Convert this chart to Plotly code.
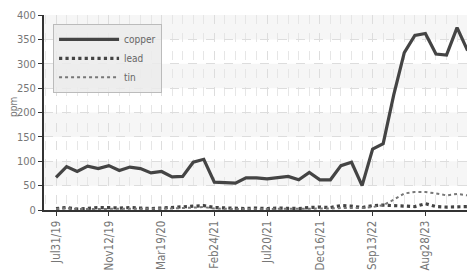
import plotly.graph_objects as go

tick_labels = ["Jul31/19", "Nov12/19", "Mar19/20", "Feb24/21", "Jul20/21", "Dec16/21", "Sep13/22", "Aug28/23"]
tick_index = [0, 5, 10, 15, 20, 25, 30, 35]

copper = [67, 89, 79, 90, 85, 91, 81, 88, 85, 76,
          79, 68, 69, 98, 104, 57, 56, 55, 66, 66,
          64, 66, 69, 62, 77, 62, 62, 91, 98, 50,
          125, 136, 236, 323, 358, 362, 320, 318, 374, 327]
lead = [3, 5, 2, 4, 5, 5, 4, 5, 4, 3,
        4, 5, 6, 8, 9, 5, 4, 4, 3, 4,
        3, 4, 4, 3, 5, 6, 5, 9, 8, 5,
        9, 10, 9, 8, 7, 13, 7, 6, 7, 7]
tin = [2, 4, 2, 2, 3, 2, 3, 2, 3, 2,
       2, 3, 4, 5, 6, 3, 2, 2, 2, 2,
       2, 2, 3, 2, 3, 3, 3, 4, 4, 4,
       6, 10, 21, 34, 37, 37, 34, 30, 33, 30]

idx = list(range(len(copper)))

fig = go.Figure()
fig.add_trace(go.Scatter(x=idx, y=copper, name="copper", mode="lines",
                         line=dict(color="#444444", width=3.2)))
fig.add_trace(go.Scatter(x=idx, y=lead, name="lead", mode="lines",
                         line=dict(color="#444444", width=3.2, dash="dot")))
fig.add_trace(go.Scatter(x=idx, y=tin, name="tin", mode="lines",
                         line=dict(color="#777777", width=2, dash="dot")))

for lo in [50, 150, 250, 350]:
    fig.add_shape(type="rect", xref="paper", yref="y", x0=0, x1=1, y0=lo, y1=lo + 50,
                  fillcolor="#f6f6f6", line_width=0, layer="below")

font_family = "DejaVu Sans Condensed, Liberation Sans Narrow, Roboto, sans-serif"

fig.add_annotation(text="ppm", xref="paper", yref="paper", x=-0.071, y=0.53,
                   xanchor="center", yanchor="middle", textangle=-90, showarrow=False,
                   font=dict(size=10, color="#777777"))

# page body has an 8px default margin, so the figure is sized to fill the rest
fig.update_layout(
    width=467, height=264,
    margin=dict(l=36, r=0, t=7, b=62, autoexpand=False),
    paper_bgcolor="white", plot_bgcolor="white",
    font=dict(family=font_family, size=12, color="#666666"),
    showlegend=True,
    legend=dict(x=0.021, y=0.955, xanchor="left", yanchor="top",
                bgcolor="rgba(235,235,235,0.85)", bordercolor="#bbbbbb", borderwidth=1,
                font=dict(size=10, color="#666666"), itemwidth=60,
                tracegroupgap=0, itemclick=False),
    xaxis=dict(range=[-1.14, 39.7], tickmode="array", tickvals=tick_index, ticktext=tick_labels,
               tickangle=-90, showgrid=True, gridcolor="#dddddd", griddash="dash", gridwidth=1,
               ticks="outside", ticklen=4, tickcolor="#333333", automargin=False,
               showline=True, linecolor="#333333", linewidth=2, zeroline=False,
               tickfont=dict(size=11.5, color="#777777"),
               minor=dict(tickmode="linear", tick0=0, dtick=1, showgrid=True,
                          gridcolor="#e6e6e6", griddash="dash", gridwidth=1)),
    yaxis=dict(range=[0, 400], tickmode="linear", tick0=0, dtick=50, automargin=False,
               showgrid=True, gridcolor="#dddddd", griddash="dash", gridwidth=1,
               ticks="outside", ticklen=4, tickcolor="#333333",
               showline=True, linecolor="#333333", linewidth=2, zeroline=False,
               tickfont=dict(size=11, color="#777777")),
)

fig.write_html("out.html")
